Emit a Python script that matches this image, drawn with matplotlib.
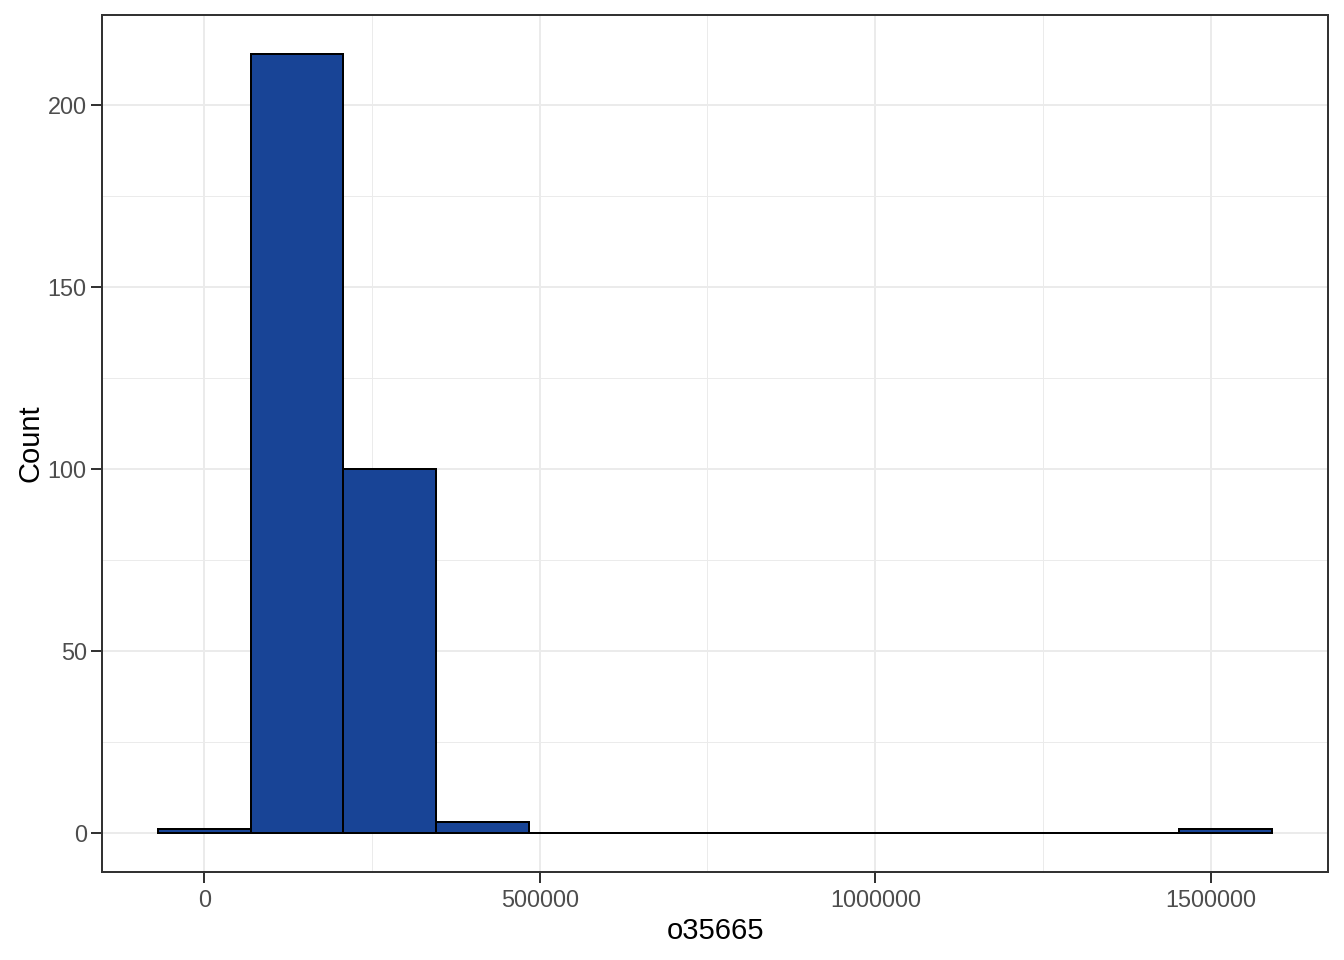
import numpy as np
import matplotlib.pyplot as plt
from matplotlib.ticker import MultipleLocator

# histogram of o35665 (12 bins)
bin_width = 138400
bin_index = np.arange(12)
counts = [1, 214, 100, 3, 0, 0, 0, 0, 0, 0, 0, 1]

px = 72 / 100  # one pixel in points

plt.rcParams['font.family'] = ['Liberation Sans', 'DejaVu Sans']

fig = plt.figure(figsize=(13.44, 9.6), dpi=100)
ax = fig.add_axes([102 / 1344, 1 - 872 / 960, (1328 - 102) / 1344, (872 - 15) / 960])

centers = bin_index * bin_width
ax.bar(centers, counts, width=bin_width, color='#184496', edgecolor='black',
       linewidth=2 * px, zorder=3)

lo = centers[0] - bin_width / 2
hi = centers[-1] + bin_width / 2
pad = (hi - lo) * 0.05
ax.set_xlim(lo - pad, hi + pad)
ymax = max(counts)
ax.set_ylim(-ymax * 0.05, ymax * 1.05)

ax.xaxis.set_major_locator(MultipleLocator(500000))
ax.xaxis.set_minor_locator(MultipleLocator(250000))
ax.yaxis.set_major_locator(MultipleLocator(50))
ax.yaxis.set_minor_locator(MultipleLocator(25))
ax.ticklabel_format(style='plain', axis='x')

ax.grid(which='major', color='#EBEBEB', linewidth=2 * px, zorder=0)
ax.grid(which='minor', color='#EBEBEB', linewidth=1 * px, zorder=0)
ax.set_axisbelow(True)

for s in ax.spines.values():
    s.set_color('#333333')
    s.set_linewidth(2 * px)

ax.tick_params(which='major', length=8, width=2 * px, color='#333333',
               labelcolor='#4D4D4D', labelsize=16.9)
ax.tick_params(axis='y', pad=3)
ax.tick_params(axis='x', pad=4)
ax.tick_params(which='minor', length=0)

ax.set_xlabel('o35665', fontsize=21, color='black', labelpad=4)
ax.set_ylabel('Count', fontsize=21, color='black', labelpad=2)

fig.savefig('out.png', dpi=100)
